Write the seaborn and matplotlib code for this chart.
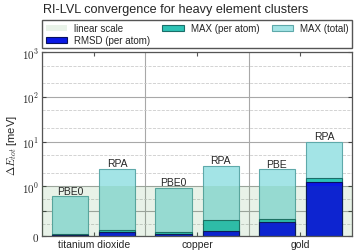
#!/usr/bin/env python3
"""
RI-LVL convergence bar chart for heavy element clusters.
Overlapping bars on a symlog axis (linear below 1 meV).
"""
import numpy as np
import pandas as pd
import matplotlib
matplotlib.use('Agg')
import matplotlib.pyplot as plt
import seaborn as sns

# data (meV)
systems = ['titanium dioxide', 'copper', 'gold']
methods = ['PBE0', 'RPA', 'PBE0', 'RPA', 'PBE', 'RPA']
max_total = [0.80, 2.5, 0.97, 2.9, 2.4, 10.0]
max_atom = [0.04, 0.12, 0.075, 0.33, 0.35, 1.5]
rmsd_atom = [0.03, 0.075, 0.045, 0.10, 0.29, 1.27]
ytick_vals = [0, 0.5, 1, 10, 100, 1000]
ytick_labels = [r'$0$', '', r'$10^{0}$', r'$10^{1}$', r'$10^{2}$', r'$10^{3}$']

sns.set_style('white')
plt.rcParams['font.family'] = ['Liberation Sans', 'DejaVu Sans']
plt.rcParams['mathtext.fontset'] = 'cm'

# two bars per system, placed left/right of the group centre
offset = 0.228
pos = [g + 0.5 + s * offset for g in range(len(systems)) for s in (-1, 1)]
df = pd.DataFrame({'pos': pos, 'method': methods, 'total': max_total,
                   'atom': max_atom, 'rmsd': rmsd_atom})

fig = plt.figure(figsize=(3.57, 2.53), dpi=100)
ax = fig.add_axes([0.118, 0.063, 0.868, 0.727])

bar_w = 0.35 / (2 * offset)
layers = [('total', '#a3e4e6', '#5ea9aa', 'MAX (total)'),
          ('atom', '#2ec3b6', '#1b6e69', 'MAX (per atom)'),
          ('rmsd', '#0a18e4', '#08105e', 'RMSD (per atom)')]
for col, fc, ec, lab in layers:
    sns.barplot(data=df, x='pos', y=col, native_scale=True, width=bar_w,
                color=fc, edgecolor=ec, linewidth=0.8, saturation=1,
                errorbar=None, label=lab, ax=ax, zorder=2)

ax.set_yscale('symlog', linthresh=1, linscale=1)
ax.set_ylim(0, 1000)
ax.set_xlim(0, 3)

ax.axhspan(0, 1, color='#2e8b2e', alpha=0.11, lw=0, zorder=3,
           label='linear scale')

for x, t, m in zip(df['pos'], df['total'], df['method']):
    ax.annotate(m, (x, t), xytext=(0, 0.5), textcoords='offset points',
                ha='center', va='bottom', fontsize=7.5, zorder=4)

# y axis
ax.set_yticks(ytick_vals)
ax.set_yticklabels(ytick_labels, fontsize=8)
minor_y = [0.25, 0.75, 2, 5, 20, 50, 200, 500]
ax.set_yticks(minor_y, minor=True)
ax.set_ylabel(r'$\Delta E_{tot}$ [meV]', fontsize=8, labelpad=2)

# x axis: labels at group centres, separators as long minor ticks
ax.set_xticks([0.5, 1.5, 2.5])
ax.set_xticklabels(systems, fontsize=7.5)
ax.set_xticks([0, 1, 2, 3], minor=True)
ax.set_xlabel('')
ax.tick_params(axis='x', which='major', direction='in', length=3,
               top=True, bottom=True, pad=2, color='#555555')
ax.tick_params(axis='x', which='minor', direction='out', length=8.5,
               width=0.8, color='#999999')
ax.tick_params(axis='y', which='major', direction='in', length=3,
               left=True, right=True, pad=2, color='#444444')
ax.tick_params(axis='y', which='minor', length=0)

ax.grid(True, axis='y', which='major', color='#a8a8a8', lw=0.8, zorder=1)
ax.grid(True, axis='y', which='minor', color='#cccccc', lw=0.6,
        ls='--', zorder=1)
ax.grid(True, axis='x', which='minor', color='#a8a8a8', lw=0.8, zorder=1)
ax.grid(False, axis='x', which='major')
ax.set_axisbelow(True)
for sp in ax.spines.values():
    sp.set_color('#555555')
    sp.set_linewidth(0.9)

handles, labels = ax.get_legend_handles_labels()
order = ['linear scale', 'RMSD (per atom)', 'MAX (per atom)', 'MAX (total)']
hmap = dict(zip(labels, handles))
ax.legend([hmap[k] for k in order], order, ncol=3, mode='expand',
          loc='lower left', bbox_to_anchor=(0, 1.02, 1, 0.1),
          borderaxespad=0, fontsize=7, fancybox=False, framealpha=1,
          edgecolor='#555555', handlelength=2.2, handleheight=0.6,
          labelspacing=0.2, borderpad=0.35, columnspacing=0.8,
          handletextpad=0.7)

fig.suptitle('RI-LVL convergence for heavy element clusters', x=0.12,
             y=0.985, ha='left', va='top', fontsize=9.1)

plt.savefig('out.png', dpi=100)
plt.close()
